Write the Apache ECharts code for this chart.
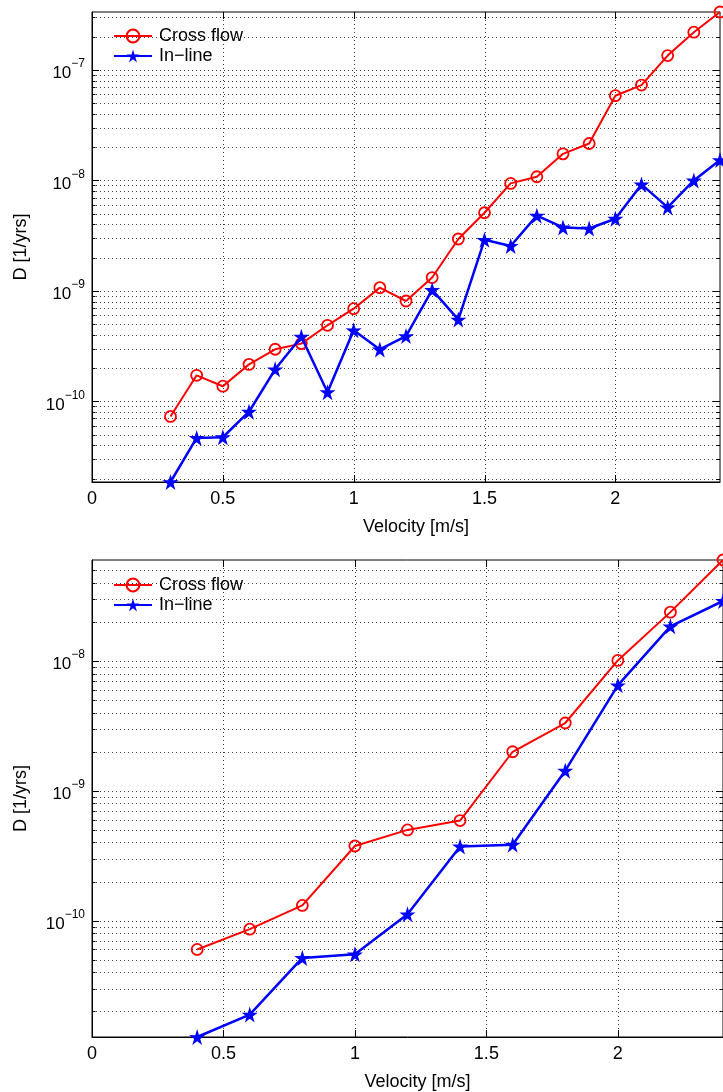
<!DOCTYPE html>
<html><head><meta charset="utf-8">
<script src="https://cdn.jsdelivr.net/npm/echarts@6.0.0/dist/echarts.min.js"></script>
<style>html,body{margin:0;padding:0;background:#fff}#c{width:723px;height:1092px}</style>
</head><body><div id="c"></div>
<script>
const seriesNames = ['Cross flow', 'In\u2212line'];
const velocityTop = [0.3,0.4,0.5,0.6,0.7,0.8,0.9,1.0,1.1,1.2,1.3,1.4,1.5,1.6,1.7,1.8,1.9,2.0,2.1,2.2,2.3,2.4];
const crossTop = [7.3e-11,1.72e-10,1.37e-10,2.16e-10,2.96e-10,3.33e-10,4.88e-10,6.9e-10,1.07e-9,8.1e-10,1.32e-9,2.95e-9,5.1e-9,9.4e-9,1.08e-8,1.74e-8,2.16e-8,5.85e-8,7.3e-8,1.35e-7,2.2e-7,3.35e-7];
const inlineTop = [1.86e-11,4.66e-11,4.73e-11,8.05e-11,1.95e-10,3.85e-10,1.21e-10,4.4e-10,2.95e-10,3.9e-10,1.02e-9,5.5e-10,2.9e-9,2.55e-9,4.8e-9,3.75e-9,3.67e-9,4.5e-9,9.2e-9,5.7e-9,1.0e-8,1.53e-8];
const velocityBottom = [0.4,0.6,0.8,1.0,1.2,1.4,1.6,1.8,2.0,2.2,2.4];
const crossBottom = [6.0e-11,8.6e-11,1.31e-10,3.76e-10,5.0e-10,5.9e-10,2.0e-9,3.33e-9,1.01e-8,2.38e-8,6.0e-8];
const inlineBottom = [1.27e-11,1.89e-11,5.16e-11,5.5e-11,1.12e-10,3.73e-10,3.85e-10,1.43e-9,6.5e-9,1.85e-8,2.9e-8];
const xGridValues = [0.5,1,1.5,2];
const xMin = 0, xMax = 2.4, xInterval = 0.5;
const xName = 'Velocity [m/s]';
const yName = 'D [1/yrs]';

const FONT = '"Liberation Sans", Arial, Helvetica, sans-serif';
const STAR = 'path://M50 0 L61.17 34.63 L97.55 34.55 L68.07 55.87 L79.39 90.45 L50 69 L20.61 90.45 L31.93 55.87 L2.45 34.55 L38.83 34.63 Z';

function logGridValues(lo, hi) {
  const out = [];
  for (let n = Math.floor(Math.log10(lo)) - 1; n <= Math.ceil(Math.log10(hi)); n++) {
    for (let k = 1; k <= 9; k++) {
      const v = k * Math.pow(10, n);
      if (v > lo * 1.0001 && v < hi * 0.9999) out.push([xMin, v, k === 1 ? 1 : 0]);
    }
  }
  return out;
}

function hRender(params, api) {
  const cs = params.coordSys;
  const y = Math.round(api.coord([api.value(0), api.value(1)])[1]) + 0.5;
  const x0 = cs.x, x1 = cs.x + cs.width;
  const len = api.value(2) ? 7 : 3.5;
  return {type: 'group', children: [
    {type: 'line', shape: {x1: x0, y1: y, x2: x1, y2: y}, style: {stroke: '#3a3a3a', lineWidth: 1, lineDash: [1, 3]}},
    {type: 'line', shape: {x1: x0, y1: y, x2: x0 + len, y2: y}, style: {stroke: '#000', lineWidth: 1}},
    {type: 'line', shape: {x1: x1, y1: y, x2: x1 - len, y2: y}, style: {stroke: '#000', lineWidth: 1}}
  ]};
}
function vRender(params, api) {
  const cs = params.coordSys;
  const x = Math.round(api.coord([api.value(0), api.value(1)])[0]) + 0.5;
  const y0 = cs.y, y1 = cs.y + cs.height;
  return {type: 'group', children: [
    {type: 'line', shape: {x1: x, y1: y0, x2: x, y2: y1}, style: {stroke: '#3a3a3a', lineWidth: 1, lineDash: [1, 3]}},
    {type: 'line', shape: {x1: x, y1: y1, x2: x, y2: y1 - 7}, style: {stroke: '#000', lineWidth: 1}},
    {type: 'line', shape: {x1: x, y1: y0, x2: x, y2: y0 + 7}, style: {stroke: '#000', lineWidth: 1}}
  ]};
}

function yLabel(v) {
  const e = Math.log10(v), r = Math.round(e);
  if (Math.abs(e - r) > 1e-6) return '';
  return '{b|10}{s|' + (r < 0 ? '\u2212' : '') + Math.abs(r) + '}';
}

function panel(i, vel, cross, inline) {
  const all = cross.concat(inline);
  const yMin = Math.min.apply(null, all), yMax = Math.max.apply(null, all);
  const xAxis = {
    gridIndex: i, type: 'value', min: xMin, max: xMax, interval: xInterval,
    axisLine: {show: true, lineStyle: {color: '#000', width: 1}},
    axisTick: {show: false}, splitLine: {show: false},
    axisLabel: {color: '#000', fontSize: 18, fontFamily: FONT, margin: 8, showMaxLabel: false},
    name: xName, nameLocation: 'middle', nameGap: 36,
    nameTextStyle: {color: '#000', fontSize: 18, fontFamily: FONT, padding: [0, 0, 0, 20]}
  };
  const yAxis = {
    gridIndex: i, type: 'log', logBase: 10, min: yMin, max: yMax,
    axisLine: {show: true, lineStyle: {color: '#000', width: 1}},
    axisTick: {show: false}, splitLine: {show: false},
    axisLabel: {formatter: yLabel, margin: 7, showMinLabel: false, showMaxLabel: false,
      rich: {
        b: {fontSize: 17, fontFamily: FONT, color: '#000', lineHeight: 24, verticalAlign: 'bottom'},
        s: {fontSize: 12, fontFamily: FONT, color: '#000', lineHeight: 12, verticalAlign: 'top'}
      }},
    name: yName, nameLocation: 'middle', nameGap: 62, nameRotate: 90,
    nameTextStyle: {color: '#000', fontSize: 18, fontFamily: FONT}
  };
  const series = [
    {type: 'custom', name: 'hgrid' + i, xAxisIndex: i, yAxisIndex: i, renderItem: hRender,
     data: logGridValues(yMin, yMax), encode: {x: 0, y: 1}, silent: true, z: 1, animation: false},
    {type: 'custom', name: 'vgrid' + i, xAxisIndex: i, yAxisIndex: i, renderItem: vRender,
     data: xGridValues.map(x => [x, yMin]), encode: {x: 0, y: 1}, silent: true, z: 1, animation: false},
    {type: 'line', name: seriesNames[0], xAxisIndex: i, yAxisIndex: i,
     data: vel.map((v, j) => [v, cross[j]]),
     symbol: 'circle', symbolSize: 11,
     lineStyle: {color: '#ff0000', width: 2},
     itemStyle: {color: 'rgba(255,255,255,0)', borderColor: '#ff0000', borderWidth: 1.8},
     z: 3, animation: false, silent: true},
    {type: 'line', name: seriesNames[1], xAxisIndex: i, yAxisIndex: i,
     data: vel.map((v, j) => [v, inline[j]]),
     symbol: STAR, symbolSize: 16,
     lineStyle: {color: '#0000ff', width: 2.5},
     itemStyle: {color: '#0000ff'},
     z: 4, animation: false, silent: true}
  ];
  return {xAxis, yAxis, series};
}

const p0 = panel(0, velocityTop, crossTop, inlineTop);
const p1 = panel(1, velocityBottom, crossBottom, inlineBottom);

const legendBase = {
  data: seriesNames, orient: 'vertical', left: 108, itemWidth: 38, itemHeight: 16, itemGap: 2,
  selectedMode: false,
  textStyle: {fontSize: 18, fontFamily: FONT, color: '#000', lineHeight: 18, padding: [0, 0, 0, 2]}
};

const option = {
  backgroundColor: '#fff',
  animation: false,
  grid: [
    {left: 92, right: 3, top: 12, height: 470, show: true, borderColor: '#000', borderWidth: 1},
    {left: 92, right: -7, top: 560, height: 479, show: true, borderColor: '#000', borderWidth: 1}
  ],
  legend: [Object.assign({top: 22}, legendBase), Object.assign({top: 571}, legendBase)],
  xAxis: [p0.xAxis, p1.xAxis],
  yAxis: [p0.yAxis, p1.yAxis],
  series: p0.series.concat(p1.series)
};

const chart = echarts.init(document.getElementById('c'), null, {renderer: 'canvas'});
chart.setOption(option);
</script></body></html>
